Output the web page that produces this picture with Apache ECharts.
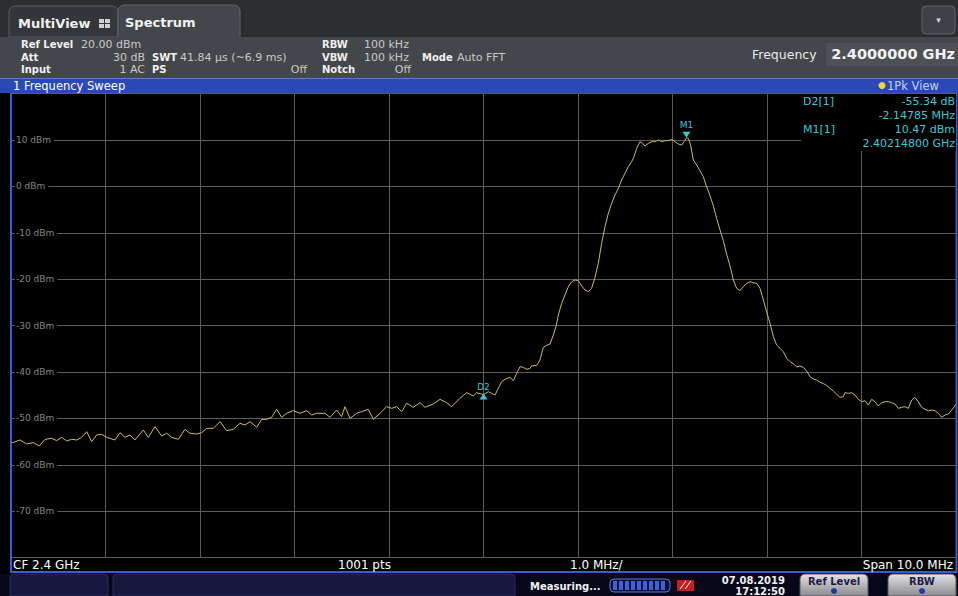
<!DOCTYPE html>
<html><head><meta charset="utf-8">
<script src="https://cdn.jsdelivr.net/npm/echarts@6/dist/echarts.min.js"></script>
<style>html,body{margin:0;padding:0;background:#000;overflow:hidden}#c{width:958px;height:596px}</style>
</head><body><div id="c"></div>
<script>
// Trace: frequency offset from start (2395 MHz), MHz
const freqFromStartMHz = [
0.000,0.095,0.166,0.236,0.300,0.360,0.430,0.483,0.536,0.589,0.642,0.695,0.748,0.801,0.854,0.906,0.959,1.012,1.101,1.153,
1.206,1.259,1.312,1.400,1.453,1.524,1.594,1.647,1.700,1.771,1.841,1.894,1.965,2.018,2.071,2.141,2.212,2.282,2.353,2.423,
2.476,2.529,2.600,2.653,2.705,2.758,2.811,2.864,2.917,2.987,3.058,3.129,3.182,3.235,3.323,3.376,3.446,3.499,3.534,3.587,
3.658,3.711,3.781,3.834,3.905,3.975,4.028,4.081,4.134,4.187,4.257,4.328,4.381,4.469,4.540,4.610,4.663,4.751,4.822,4.892,
4.928,5.000,5.051,5.086,5.122,5.157,5.192,5.228,5.280,5.316,5.351,5.386,5.421,5.457,5.492,5.510,5.563,5.598,5.616,5.633,
5.669,5.704,5.739,5.767,5.792,5.827,5.862,5.898,5.933,5.968,6.003,6.039,6.074,6.109,6.144,6.180,6.215,6.250,6.286,6.321,
6.356,6.392,6.427,6.462,6.497,6.533,6.568,6.593,6.621,6.656,6.684,6.709,6.744,6.780,6.815,6.850,6.885,6.921,6.956,6.991,
7.026,7.062,7.097,7.122,7.148,7.167,7.192,7.220,7.256,7.291,7.326,7.361,7.397,7.432,7.467,7.503,7.538,7.573,7.608,7.644,
7.679,7.714,7.750,7.785,7.820,7.855,7.891,7.926,7.961,7.996,8.032,8.067,8.102,8.138,8.173,8.208,8.243,8.279,8.314,8.349,
8.384,8.420,8.455,8.490,8.526,8.561,8.596,8.631,8.667,8.702,8.737,8.772,8.808,8.825,8.861,8.896,8.931,8.966,9.002,9.037,
9.072,9.108,9.143,9.178,9.213,9.249,9.284,9.319,9.354,9.390,9.425,9.460,9.496,9.531,9.566,9.601,9.637,9.672,9.707,9.743,
9.778,9.813,9.848,9.884,9.919,9.954,9.989,10.000];
// Trace level, dBm
const levelDbm = [
-55.37,-54.65,-55.51,-55.23,-55.94,-54.51,-54.29,-54.79,-54.08,-54.87,-54.51,-54.65,-54.08,-52.86,-55.01,-53.57,-53.43,-54.08,-54.65,-53.07,
-54.08,-53.57,-54.65,-52.50,-54.08,-51.78,-53.79,-53.21,-54.08,-54.51,-52.35,-53.21,-53.36,-53.07,-52.14,-52.14,-50.70,-52.64,-52.35,-51.06,
-51.42,-50.70,-51.92,-50.20,-50.20,-49.77,-48.04,-49.77,-48.90,-48.33,-48.90,-48.33,-49.26,-48.90,-48.90,-49.77,-48.19,-49.62,-47.47,-49.98,
-48.90,-48.54,-48.04,-50.20,-48.90,-47.47,-47.83,-47.47,-48.54,-46.75,-47.61,-46.61,-47.61,-46.89,-45.89,-46.61,-47.47,-45.67,-44.45,-45.17,
-44.45,-44.87,-44.24,-44.60,-44.95,-43.52,-42.08,-41.58,-41.15,-41.87,-40.29,-38.85,-38.99,-39.42,-39.21,-38.71,-38.56,-37.41,-35.97,-34.68,
-34.25,-33.96,-32.02,-30.23,-27.71,-25.20,-23.40,-21.61,-20.53,-20.17,-20.31,-21.46,-22.33,-22.68,-21.97,-19.60,-16.58,-12.27,-8.68,-5.80,
-3.65,-1.85,-0.42,1.38,2.82,4.25,5.33,6.41,8.20,9.64,9.28,8.71,9.28,9.64,9.64,10.00,9.64,9.86,9.86,10.14,
9.64,9.14,8.92,9.64,10.47,10.36,8.92,5.69,4.61,3.35,2.10,-0.06,-2.00,-4.20,-6.90,-9.40,-11.70,-14.60,-17.10,-20.17,
-21.97,-22.47,-21.61,-20.89,-20.53,-20.75,-20.89,-21.97,-24.48,-27.00,-29.51,-32.39,-34.18,-34.90,-35.62,-37.05,-37.77,-38.20,-38.90,-38.71,
-39.00,-39.80,-41.01,-41.50,-41.73,-42.20,-42.50,-42.90,-43.52,-44.10,-44.80,-45.46,-45.32,-44.46,-44.60,-44.46,-44.96,-45.89,-46.40,-46.18,
-47.11,-45.89,-46.40,-47.33,-46.61,-46.40,-46.40,-46.61,-46.90,-47.83,-47.62,-47.47,-47.83,-46.04,-45.46,-46.40,-47.62,-48.05,-48.34,-48.19,
-48.34,-48.91,-49.77,-49.27,-49.05,-48.19,-47.33,-46.90];
const markerNames = ['M1', 'D2'];
const markerFreqFromStartMHz = [7.148, 5.000];
const markerLevelDbm = [10.47, -44.87];
const markerInfoLabels = ['D2[1]', '', 'M1[1]', ''];
const markerInfoValues = ['-55.34 dB', '-2.14785 MHz', '10.47 dBm', '2.40214800 GHz'];

const FF = '"DejaVu Sans", Verdana, sans-serif';
const CY = '#3fc6d6';
function T(x, y, text, size, color, weight, align, z) {
  return {type:'text', x:x, y:y, z:z||20, silent:true,
    style:{text:text, fill:color, font:(weight||'normal')+' '+size+'px '+FF,
      textAlign:align||'left', textVerticalAlign:'middle'}};
}
function R(x, y, w, h, fill, z, r, stroke) {
  const s = {fill:fill};
  if (stroke) { s.stroke = stroke; s.lineWidth = 1; }
  return {type:'rect', z:z||0, silent:true, shape:{x:x, y:y, width:w, height:h, r:r||0}, style:s};
}
function L(x1, y1, x2, y2, color, z, w) {
  return {type:'line', z:z||10, silent:true, shape:{x1:x1,y1:y1,x2:x2,y2:y2}, style:{stroke:color, lineWidth:w||1}};
}

const g = [];
// backgrounds
g.push(R(0,0,958,596,'#000',0));
g.push(R(0,0,958,37,'#2b2d30',0));
g.push(R(9,6,109,31,'#33363a',0,[6,6,0,0],'#5a5e63'));
g.push(R(118,5,122,33,'#43474b',0,[6,6,0,0],'#62666b'));
g.push(R(0,37,958,41,'#43474b',0));
g.push(R(826,43,132,23,'#4d5156',0));
g.push(R(922,6,33,28,'#3d4145',0,4,'#62666b'));
g.push(T(938.5,20,'\u25be',9,'#d8d8d8','normal','center'));
// multiview icon
g.push(R(99,19,5,4,'#d0d0d0',1)); g.push(R(105,19,5,4,'#d0d0d0',1));
g.push(R(99,24,5,4,'#d0d0d0',1)); g.push(R(105,24,5,4,'#d0d0d0',1));
g.push(T(18,23,'MultiView',13,'#f2f2f2','bold'));
g.push(T(125,22,'Spectrum',13,'#f2f2f2','bold'));
// info rows
const W = '#f0f0f0', V = '#c8c8c8', LS = 10, VS = 11;
g.push(T(21,44,'Ref Level',LS,W,'bold')); g.push(T(81,44,'20.00 dBm',VS,V));
g.push(T(322,44,'RBW',LS,W,'bold')); g.push(T(364,44,'100 kHz',VS,V));
g.push(T(21,57,'Att',LS,W,'bold')); g.push(T(145,57,'30 dB',VS,V,'normal','right'));
g.push(T(152,57,'SWT',LS,W,'bold')); g.push(T(180,57,'41.84 \u00b5s (~6.9 ms)',VS,V));
g.push(T(322,57,'VBW',LS,W,'bold')); g.push(T(364,57,'100 kHz',VS,V));
g.push(T(422,57,'Mode',LS,W,'bold')); g.push(T(457,57,'Auto FFT',VS,V));
g.push(T(21,69,'Input',LS,W,'bold')); g.push(T(145,69,'1 AC',VS,V,'normal','right'));
g.push(T(152,69,'PS',LS,W,'bold')); g.push(T(307,69,'Off',VS,V,'normal','right'));
g.push(T(322,69,'Notch',LS,W,'bold')); g.push(T(411,69,'Off',VS,V,'normal','right'));
g.push(T(752,54,'Frequency',12.5,'#e8e8e8'));
g.push(T(955,54,'2.4000000 GHz',14.5,'#f4f4f4','bold','right'));
// blue bar
g.push(R(0,78,958,15,'#2a49b4',1));
g.push(L(0,78.5,958,78.5,'#5a7ae0',2));
g.push(T(13,85.5,'1 Frequency Sweep',11.5,'#ffffff'));
g.push({type:'circle', z:20, silent:true, shape:{cx:882,cy:85.5,r:3.5}, style:{fill:'#f2d82a'}});
g.push(T(887,85.5,'1Pk View',11.5,'#c8d0ee'));
// plot frame
g.push(L(11,93,11,573,'#3a5cd0',12,2));
g.push(L(956.5,93,956.5,573,'#3a5cd0',12,2));
g.push(L(11,572,957,572,'#3a5cd0',12,2));
// bottom text row
g.push(T(13,564.5,'CF 2.4 GHz',12,'#ffffff'));
g.push(T(338,564.5,'1001 pts',12,'#ffffff'));
g.push(T(570,564.5,'1.0 MHz/',12,'#ffffff'));
g.push(T(953,564.5,'Span 10.0 MHz',12,'#ffffff','normal','right'));
// marker info box
g.push(R(801,94,155,57,'#000',15));
markerInfoLabels.forEach(function(t,i){ if (t) g.push(T(803,101+14*i,t,11,CY)); });
markerInfoValues.forEach(function(t,i){ g.push(T(955,101+14*i,t,11,CY,'normal','right')); });
// status bar
g.push(R(0,574,958,22,'#07071a',12));
g.push(R(10,574,98,22,'#161840',13,[4,4,0,0],'#2b2e5c'));
g.push(R(113,574,402,22,'#161840',13,[4,4,0,0],'#2b2e5c'));
g.push(T(530,586,'Measuring...',10,'#f0f0f0','bold','left',14));
g.push(R(610,579,60,13,'#0b1030',13,4,'#5a7ae0'));
for (let i = 0; i < 9; i++) g.push(R(613+i*6,581,4,9,'#3b62d8',14));
g.push(R(677,580,17,11,'#c41e1e',13));
g.push(L(680,589,686,581,'#ffffff',14)); g.push(L(685,589,691,581,'#ffffff',14));
g.push(T(785,580,'07.08.2019',10,'#f0f0f0','bold','right',14));
g.push(T(785,591,'17:12:50',10,'#f0f0f0','bold','right',14));
[[800,'Ref Level'],[888,'RBW']].forEach(function(b){
  g.push({type:'rect', z:13, silent:true, shape:{x:b[0],y:574,width:68,height:22,r:[5,5,0,0]},
    style:{fill:new echarts.graphic.LinearGradient(0,0,0,1,[{offset:0,color:'#e2e2e2'},{offset:1,color:'#8c8c90'}]), stroke:'#555', lineWidth:1}});
  g.push(T(b[0]+34,581,b[1],10,'#1c1c4a','bold','center',14));
  g.push({type:'circle', z:14, silent:true, shape:{cx:b[0]+34,cy:591,r:3}, style:{fill:'#1d3aa0'}});
});

const traceData = freqFromStartMHz.map(function(f,i){ return [f, levelDbm[i]]; });
const mpData = markerNames.map(function(n,i){
  const up = n.charAt(0) === 'D';
  return {name:n, coord:[markerFreqFromStartMHz[i], markerLevelDbm[i]], symbol:'triangle',
    symbolRotate: up ? 0 : 180, symbolSize:[8,6], symbolOffset: up ? [0,2] : [0,-3],
    itemStyle:{color:CY},
    label:{show:true, formatter:n, position:'top', distance:2, color:CY, fontSize:9, fontFamily:FF}};
});

const chart = echarts.init(document.getElementById('c'), null, {renderer:'svg'});
chart.setOption({
  animation:false,
  backgroundColor:'transparent',
  graphic:{elements:g},
  grid:{left:11, top:93.6, width:945, height:464, show:false},
  xAxis:{type:'value', min:0, max:10, interval:1, z:3,
    axisLine:{show:false}, axisTick:{show:false}, axisLabel:{show:false},
    splitLine:{show:true, lineStyle:{color:'#5c5c5c', width:1}}},
  yAxis:{type:'value', min:-80, max:20, interval:10, z:3,
    axisLine:{show:false}, axisTick:{show:false},
    splitLine:{show:true, lineStyle:{color:'#5c5c5c', width:1}},
    axisLabel:{inside:true, margin:4, showMinLabel:false, showMaxLabel:false,
      color:'#858585', fontSize:9, fontFamily:FF, backgroundColor:'#000', padding:[1,3,1,1],
      formatter:function(v){ return v + ' dBm'; }}},
  series:[{type:'line', z:4, data:traceData, showSymbol:false, symbol:'none', smooth:false,
    lineStyle:{color:'#cabf5e', width:1}, silent:true,
    markPoint:{silent:true, data:mpData}}]
});
</script>
</body></html>
